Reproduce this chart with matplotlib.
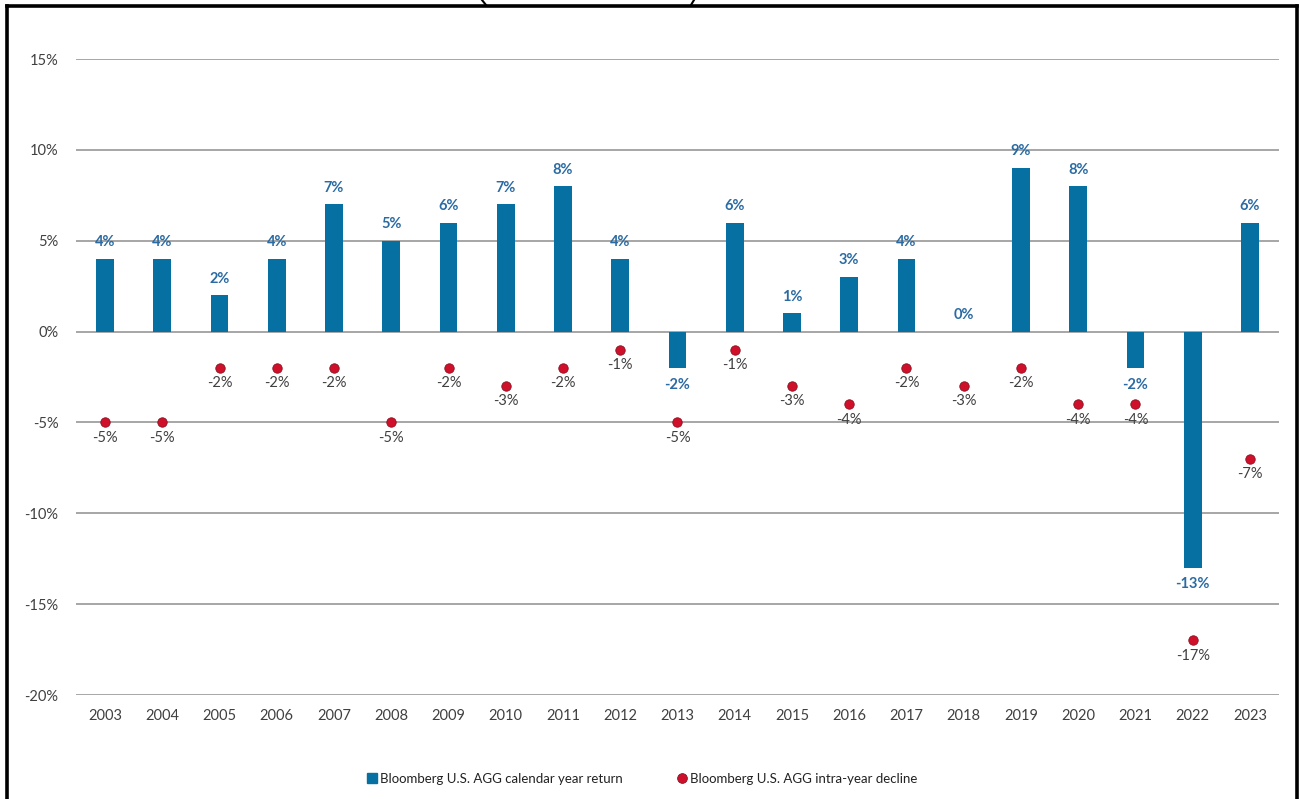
import matplotlib
matplotlib.use("Agg")
import matplotlib.pyplot as plt
from matplotlib.lines import Line2D
from matplotlib.ticker import FuncFormatter, MultipleLocator

# Bloomberg U.S. Aggregate: calendar-year returns vs. intra-year declines (%)
years = ["2003", "2004", "2005", "2006", "2007", "2008", "2009", "2010", "2011", "2012",
         "2013", "2014", "2015", "2016", "2017", "2018", "2019", "2020", "2021", "2022", "2023"]
calendar_return = [4, 4, 2, 4, 7, 5, 6, 7, 8, 4, -2, 6, 1, 3, 4, 0, 9, 8, -2, -13, 6]
intra_year_decline = [-5, -5, -2, -2, -2, -5, -2, -3, -2, -1, -5, -1, -3, -4, -2, -3, -2, -4, -4, -17, -7]

BAR_COLOR = "#0770A3"
BAR_LABEL_COLOR = "#2A6BA3"
DOT_COLOR = "#D0102B"
DOT_EDGE = "#8A1020"
TEXT_COLOR = "#404040"
GRID_COLOR = "#A6A6A6"

plt.rcParams["font.family"] = ["Lato", "DejaVu Sans"]

W, H = 1299, 799
fig = plt.figure(figsize=(W / 100, H / 100), dpi=100)
fig.patch.set_facecolor("white")

ax = fig.add_axes([76.4 / W, 1 - 695 / H, (1278.6 - 76.4) / W, (695 - 59) / H])
x = list(range(len(years)))

ax.set_ylim(-20, 15)
ax.set_xlim(-0.5, len(years) - 0.5)
ax.yaxis.set_major_locator(MultipleLocator(5))
ax.yaxis.set_major_formatter(FuncFormatter(lambda v, _: f"{v:.0f}%"))
ax.grid(axis="y", color=GRID_COLOR, linewidth=1.4, zorder=0)
ax.set_axisbelow(True)
for s in ax.spines.values():
    s.set_visible(False)
ax.tick_params(axis="both", length=0, labelsize=10.5, colors=TEXT_COLOR)
ax.tick_params(axis="y", pad=13)
ax.tick_params(axis="x", pad=10)
ax.set_xticks(x)
ax.set_xticklabels(years)

ax.bar(x, calendar_return, width=0.31, color=BAR_COLOR, zorder=2,
       label="Bloomberg U.S. AGG calendar year return")
ax.scatter(x, intra_year_decline, s=46, color=DOT_COLOR, edgecolor=DOT_EDGE,
           linewidth=0.6, zorder=3, label="Bloomberg U.S. AGG intra-year decline")

for xi, v in zip(x, calendar_return):
    offset = 12 if v >= 0 else -12
    ax.annotate(f"{v}%", (xi, v), xytext=(0, offset), textcoords="offset points",
                ha="center", va="center", fontsize=10.5, fontweight="bold",
                color=BAR_LABEL_COLOR, zorder=4)

for xi, v in zip(x, intra_year_decline):
    ax.annotate(f"{v}%", (xi, v), xytext=(0, -11), textcoords="offset points",
                ha="center", va="center", fontsize=10.5, color=TEXT_COLOR, zorder=4)

handles = [
    Line2D([], [], marker="s", linestyle="none", markersize=7, color=BAR_COLOR),
    Line2D([], [], marker="o", linestyle="none", markersize=7,
           markerfacecolor=DOT_COLOR, markeredgecolor=DOT_EDGE, markeredgewidth=0.6),
]
fig.legend(handles, ["Bloomberg U.S. AGG calendar year return",
                     "Bloomberg U.S. AGG intra-year decline"],
           loc="center", bbox_to_anchor=(641 / W, 1 - 779 / H), ncol=2, frameon=False,
           fontsize=9.5, handletextpad=0.1, columnspacing=4.0, handlelength=1.0,
           labelcolor="#222222")

# frame around the panel (open at the bottom)
frame_kw = dict(color="black", linewidth=2.6, transform=fig.transFigure, figure=fig)
fig.lines.append(Line2D([7 / W, 7 / W], [0, 1 - 5.5 / H], **frame_kw))
fig.lines.append(Line2D([7 / W, 1297 / W], [1 - 5.5 / H, 1 - 5.5 / H], **frame_kw))
fig.lines.append(Line2D([1297 / W, 1297 / W], [1 - 5.5 / H, 0], **frame_kw))
# rounded-box tails reaching down from above the panel
tail_kw = dict(color="black", linewidth=1.5, transform=fig.transFigure, figure=fig)
fig.lines.append(Line2D([482 / W, 486 / W], [1.0, 1 - 5 / H], **tail_kw))
fig.lines.append(Line2D([694 / W, 691 / W], [1.0, 1 - 5 / H], **tail_kw))

fig.savefig("out.png", dpi=100, facecolor="white")
